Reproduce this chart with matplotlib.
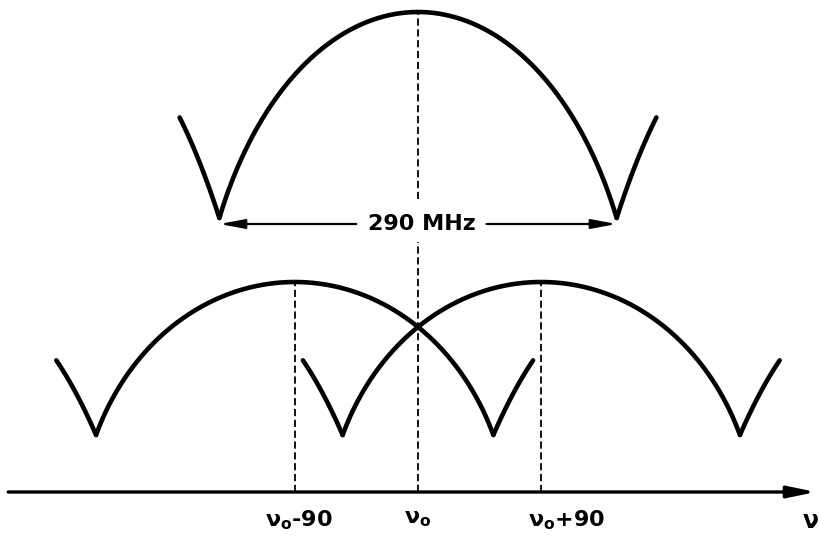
import numpy as np
import matplotlib
matplotlib.use("Agg")
import matplotlib.pyplot as plt
import matplotlib.transforms as mtransforms

# Frequencies in MHz measured from nu_0, intensities in arbitrary units
top_centre = 0.0
top_span = 290.0            # dip-to-dip spacing of the single mode
top_peak = 4.80
top_dip = 2.74

lower_centres = [-90.0, 90.0]
lower_peak = 2.10
lower_dip = 0.57

tick_pos = [-90.0, 0.0, 90.0]
tick_labels = [r"$\nu_o$-90", r"$\nu_o$", r"$\nu_o$+90"]
tick_shift = [3, 0, 18]     # label nudge in points

plt.rcParams['mathtext.fontset'] = 'custom'
plt.rcParams['mathtext.rm'] = 'DejaVu Sans:bold'
plt.rcParams['mathtext.it'] = 'DejaVu Sans:bold'
plt.rcParams['mathtext.bf'] = 'DejaVu Sans:bold'

half = top_span / 2
arm = 29.0                  # length of the neighbouring-mode stub


def arch(x, centre, peak, dip, c):
    # flattened elliptic profile, peak at centre, dip at +/- half
    u = np.clip(np.abs(x - centre) / half, 0, 1)
    f = (1 - np.sqrt(1 - c * u**2)) / (1 - np.sqrt(1 - c))
    return peak - (peak - dip) * f


def stub(x, centre, peak, dip):
    # rising edge of the next mode, drawn only a short way
    u = np.clip(np.abs(x - centre) / half, 0, 1)
    return peak - (peak - dip) * u**3


def draw_mode(ax, centre, peak, dip, c):
    xl = np.linspace(centre - half - arm, centre - half, 60)
    xm = np.linspace(centre - half, centre + half, 500)
    xr = np.linspace(centre + half, centre + half + arm, 60)
    yl = stub(xl, centre - 2 * half, peak, dip)
    ym = arch(xm, centre, peak, dip, c)
    yr = stub(xr, centre + 2 * half, peak, dip)
    for xs, ys in [(xl, yl), (xm, ym), (xr, yr)]:
        ax.plot(xs, ys, color='black', lw=3.3, solid_capstyle='round',
                solid_joinstyle='round')


fig = plt.figure(figsize=(8.2, 5.39), dpi=100)
ax = fig.add_axes([0, 0, 1, 1])
ax.axis('off')
scale = 1.37                # pixels per MHz
ax.set_xlim(-418 / scale, (820 - 418) / scale)
ax.set_ylim(-0.47, 4.92)

# single mode on top
draw_mode(ax, top_centre, top_peak, top_dip, 0.8)

# two modes split by +/- 90 MHz
for c0 in lower_centres:
    draw_mode(ax, c0, lower_peak, lower_dip, 0.85)

dash = dict(color='black', lw=1.3, dashes=(4, 2))
label_y = top_dip - 0.06
ax.plot([top_centre, top_centre], [label_y + 0.25, top_peak], **dash)
ax.plot([top_centre, top_centre], [0, label_y - 0.18], **dash)
for c0 in lower_centres:
    ax.plot([c0, c0], [0, lower_peak], **dash)

# width marker between the dips
ax.text(3, label_y, "290 MHz", ha='center', va='center', fontsize=16,
        fontweight='bold')
head = dict(arrowstyle='-|>,head_length=1.5,head_width=0.28', color='black',
            lw=1.6, mutation_scale=10, shrinkA=0, shrinkB=0)
ax.annotate('', xy=(top_centre - half, label_y), xytext=(-45, label_y),
            arrowprops=head)
ax.annotate('', xy=(top_centre + half, label_y), xytext=(50, label_y),
            arrowprops=head)

# frequency axis
trans = mtransforms.blended_transform_factory(ax.transAxes, ax.transData)
ax.annotate('', xy=(0.995, 0), xytext=(0.01, 0), xycoords=trans,
            textcoords=trans,
            arrowprops=dict(arrowstyle='-|>,head_length=1.2,head_width=0.25',
                            color='black', lw=2.4, mutation_scale=14,
                            shrinkA=0, shrinkB=0))

for xp, lab, dx in zip(tick_pos, tick_labels, tick_shift):
    ax.annotate(lab, xy=(xp, 0), xytext=(dx, -12), textcoords='offset points',
                ha='center', va='top', fontsize=16, fontweight='bold')
ax.annotate(r"$\nu$", xy=(0.978, 0), xycoords=trans, xytext=(0, -12),
            textcoords='offset points', ha='left', va='top', fontsize=17)

fig.savefig("out.png", dpi=100)
